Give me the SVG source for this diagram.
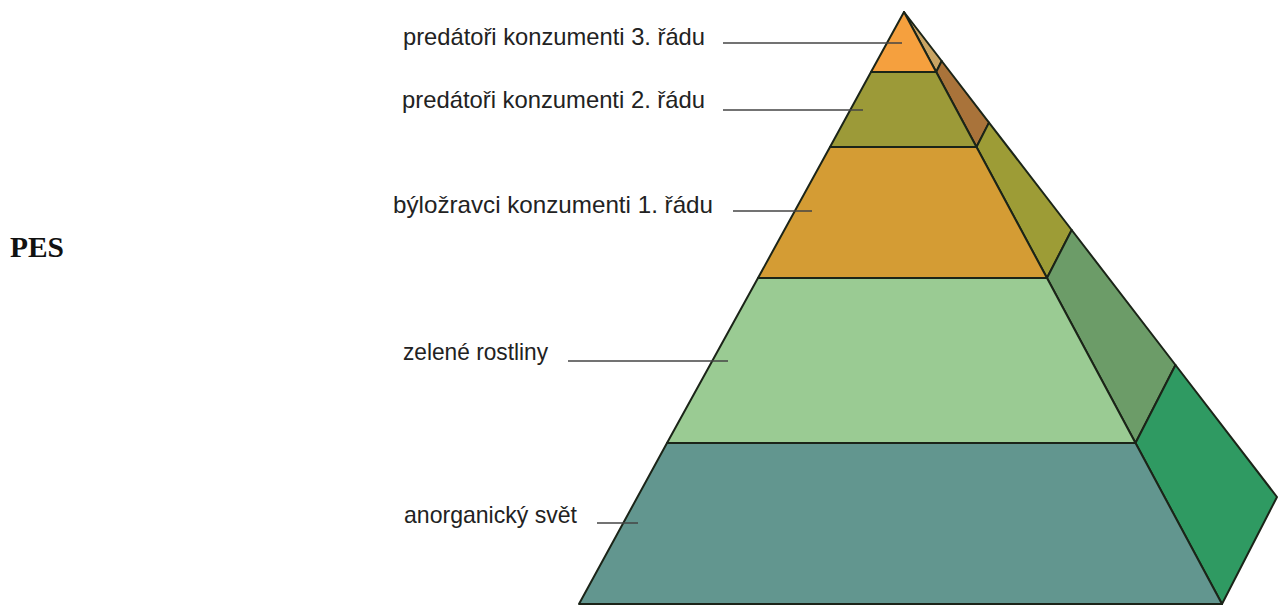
<svg xmlns="http://www.w3.org/2000/svg" width="1282" height="606" viewBox="0 0 1282 606">
<style>
.face{stroke:#1b2418;stroke-width:2;stroke-linejoin:round}
.lbl{font-family:"Liberation Sans",Arial,sans-serif;font-size:24px;fill:#222}
.lead{stroke:#454545;stroke-width:1.7;fill:none}
.title{font-family:"Liberation Serif","DejaVu Serif",serif;font-weight:bold;font-size:30px;fill:#111}
</style>
<rect width="1282" height="606" fill="#fff"/>
<g id="title"><text class="title" x="10" y="257" textLength="54" lengthAdjust="spacingAndGlyphs">PES</text></g>
<g id="pyramid">
<g id="side">
<polygon class="face" fill="#c9a463" points="904,12 941.7,61 936.2,72"/>
<polygon class="face" fill="#a9733a" points="936.2,72 941.7,61 989,122.6 976.5,147"/>
<polygon class="face" fill="#9d9c36" points="976.5,147 989,122.6 1071.7,230 1047,278"/>
<polygon class="face" fill="#6c9c68" points="1047,278 1071.7,230 1175.5,365 1135.5,443"/>
<polygon class="face" fill="#2f9a62" points="1135.5,443 1175.5,365 1277,497 1222,604"/>
</g>
<g id="level-3"><polygon class="face" fill="#f5a03e" points="904,12 936.2,72 871,72"/></g>
<g id="level-2"><polygon class="face" fill="#9c9a38" points="871,72 936.2,72 976.5,147 830,147"/></g>
<g id="level-1"><polygon class="face" fill="#d49c34" points="830,147 976.5,147 1047,278 758,278"/></g>
<g id="level-plants"><polygon class="face" fill="#9acb93" points="758,278 1047,278 1135.5,443 667,443"/></g>
<g id="level-inorganic"><polygon class="face" fill="#62968f" points="667,443 1135.5,443 1222,604 579,604"/></g>
</g>
<g id="connectors">
<line class="lead" x1="723" y1="43" x2="902" y2="43"/>
<line class="lead" x1="723" y1="110" x2="863" y2="110"/>
<line class="lead" x1="733" y1="211" x2="812" y2="211"/>
<line class="lead" x1="568" y1="361" x2="728" y2="361"/>
<line class="lead" x1="597" y1="523" x2="638" y2="523"/>
</g>
<g id="labels">
<text class="lbl" x="403" y="45" textLength="302" lengthAdjust="spacingAndGlyphs">predátoři konzumenti 3. řádu</text>
<text class="lbl" x="402" y="108" textLength="303" lengthAdjust="spacingAndGlyphs">predátoři konzumenti 2. řádu</text>
<text class="lbl" x="393" y="213" textLength="320" lengthAdjust="spacingAndGlyphs">býložravci konzumenti 1. řádu</text>
<text class="lbl" x="403" y="360" textLength="145" lengthAdjust="spacingAndGlyphs">zelené rostliny</text>
<text class="lbl" x="404" y="523" textLength="173" lengthAdjust="spacingAndGlyphs">anorganický svět</text>
</g>
</svg>
